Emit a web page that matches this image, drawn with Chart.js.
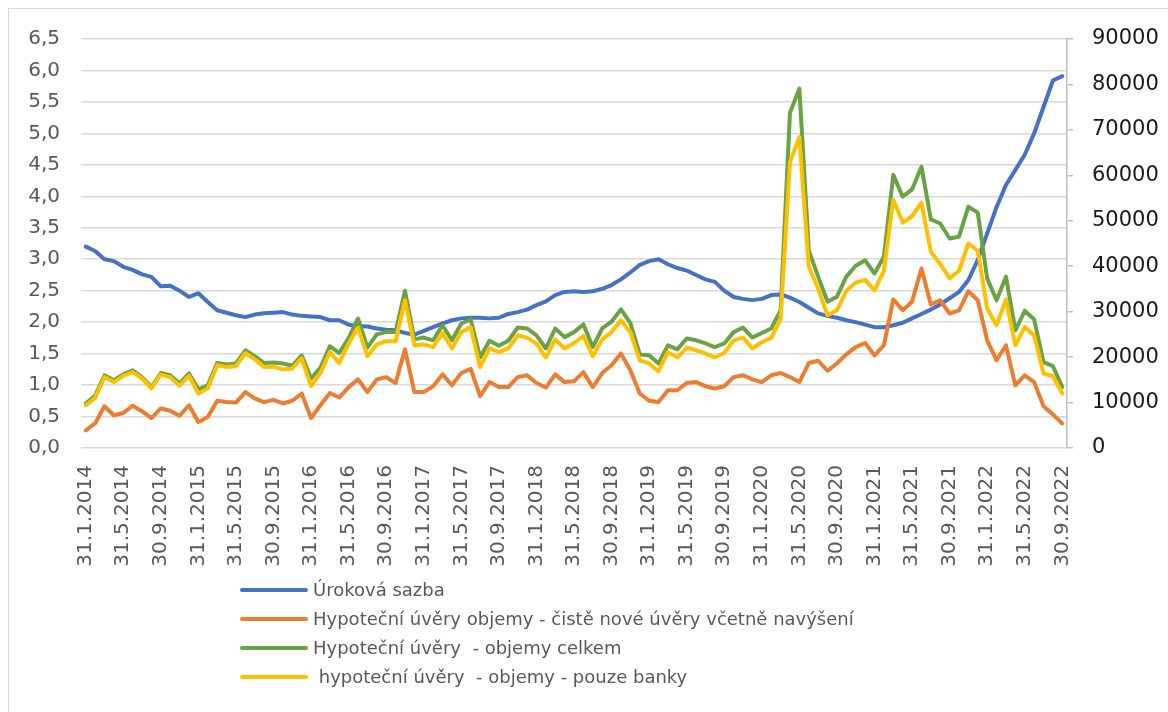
<!DOCTYPE html>
<html>
<head>
<meta charset="utf-8">
<script src="https://cdn.jsdelivr.net/npm/chart.js@4.4.1/dist/chart.umd.min.js"></script>
<style>
    body { margin: 0; background: #fff; }
    #wrap { position: relative; width: 1168px; height: 712px; overflow: hidden; }
    #frame { position: absolute; left: 8px; top: 8px; width: 1200px; height: 800px; border: 1px solid #d9d9d9; }
    #chart { position: absolute; left: 0; top: 0; }
    #legend { position: absolute; left: 240px; top: 575px; font-family: 'DejaVu Sans', sans-serif; font-size: 18px; color: #595959; }
    .row { height: 29px; display: flex; align-items: center; white-space: pre; }
    .swatch { width: 68px; height: 4px; border-radius: 2px; margin-right: 5px; }
</style>
</head>
<body>
<div id="wrap">
    <div id="frame"></div>
    <canvas id="chart" width="1168" height="712"></canvas>
    <div id="legend"></div>
</div>
<script>
// month-end dates, Jan 2014 - Sep 2022
const dates = [
    '31.1.2014', '28.2.2014', '31.3.2014', '30.4.2014', '31.5.2014', '30.6.2014', '31.7.2014', '31.8.2014', '30.9.2014', '31.10.2014', '30.11.2014', '31.12.2014',
    '31.1.2015', '28.2.2015', '31.3.2015', '30.4.2015', '31.5.2015', '30.6.2015', '31.7.2015', '31.8.2015', '30.9.2015', '31.10.2015', '30.11.2015', '31.12.2015',
    '31.1.2016', '29.2.2016', '31.3.2016', '30.4.2016', '31.5.2016', '30.6.2016', '31.7.2016', '31.8.2016', '30.9.2016', '31.10.2016', '30.11.2016', '31.12.2016',
    '31.1.2017', '28.2.2017', '31.3.2017', '30.4.2017', '31.5.2017', '30.6.2017', '31.7.2017', '31.8.2017', '30.9.2017', '31.10.2017', '30.11.2017', '31.12.2017',
    '31.1.2018', '28.2.2018', '31.3.2018', '30.4.2018', '31.5.2018', '30.6.2018', '31.7.2018', '31.8.2018', '30.9.2018', '31.10.2018', '30.11.2018', '31.12.2018',
    '31.1.2019', '28.2.2019', '31.3.2019', '30.4.2019', '31.5.2019', '30.6.2019', '31.7.2019', '31.8.2019', '30.9.2019', '31.10.2019', '30.11.2019', '31.12.2019',
    '31.1.2020', '29.2.2020', '31.3.2020', '30.4.2020', '31.5.2020', '30.6.2020', '31.7.2020', '31.8.2020', '30.9.2020', '31.10.2020', '30.11.2020', '31.12.2020',
    '31.1.2021', '28.2.2021', '31.3.2021', '30.4.2021', '31.5.2021', '30.6.2021', '31.7.2021', '31.8.2021', '30.9.2021', '31.10.2021', '30.11.2021', '31.12.2021',
    '31.1.2022', '28.2.2022', '31.3.2022', '30.4.2022', '31.5.2022', '30.6.2022', '31.7.2022', '31.8.2022', '30.9.2022'
];

// interest rate (%), left axis
const rate = [
    3.20, 3.13, 3.00, 2.97, 2.88, 2.83, 2.76, 2.72, 2.57, 2.58, 2.50, 2.40,
    2.46, 2.32, 2.19, 2.15, 2.11, 2.08, 2.12, 2.14, 2.15, 2.16, 2.12, 2.10,
    2.09, 2.08, 2.03, 2.03, 1.96, 1.94, 1.93, 1.90, 1.88, 1.87, 1.83, 1.80,
    1.86, 1.92, 1.98, 2.03, 2.06, 2.07, 2.07, 2.06, 2.07, 2.13, 2.16, 2.20,
    2.27, 2.33, 2.43, 2.48, 2.49, 2.48, 2.49, 2.53, 2.59, 2.68, 2.79, 2.91,
    2.97, 3.00, 2.92, 2.86, 2.82, 2.75, 2.68, 2.64, 2.50, 2.40, 2.37, 2.35,
    2.37, 2.43, 2.44, 2.39, 2.32, 2.23, 2.14, 2.10, 2.07, 2.03, 2.00, 1.96,
    1.92, 1.92, 1.95, 1.99, 2.06, 2.13, 2.20, 2.28, 2.38, 2.48, 2.67, 2.99,
    3.41, 3.83, 4.18, 4.42, 4.66, 5.00, 5.42, 5.84, 5.91
];

// new loans incl. top-ups, right axis
const newLoans = [
    3900, 5400, 9200, 7200, 7700, 9300, 8100, 6600, 8700, 8200, 7100, 9400,
    5700, 6800, 10400, 10100, 10000, 12300, 10900, 10100, 10600, 9800, 10400, 12000,
    6600, 9400, 12100, 11100, 13400, 15100, 12300, 15100, 15600, 14300, 21700, 12300,
    12300, 13600, 16200, 13800, 16500, 17400, 11400, 14500, 13400, 13400, 15600, 16000,
    14300, 13300, 16200, 14500, 14700, 16700, 13400, 16500, 18200, 20800, 17100, 12000,
    10400, 10100, 12700, 12700, 14300, 14500, 13600, 13100, 13600, 15600, 16000, 15100,
    14500, 16000, 16500, 15600, 14500, 18700, 19200, 17000, 18600, 20600, 22200, 23100,
    20400, 22600, 32700, 30300, 32200, 39500, 31600, 32500, 29600, 30300, 34500, 32500,
    23700, 19300, 22600, 13800, 16000, 14500, 9200, 7400, 5400
];

// total mortgage volumes, right axis
const totalLoans = [
    9800, 11500, 16000, 14900, 16200, 17100, 15600, 13400, 16500, 16000, 14200, 16400,
    12900, 13800, 18700, 18400, 18600, 21500, 20200, 18700, 18800, 18600, 18100, 20400,
    15300, 17700, 22400, 20900, 24200, 28500, 22100, 25000, 25500, 25500, 34600, 23900,
    24300, 23700, 27000, 23700, 27400, 28300, 19900, 23600, 22500, 23600, 26500, 26300,
    24800, 21900, 26300, 24400, 25500, 27200, 22200, 26300, 27800, 30500, 27500, 20600,
    20400, 18600, 22600, 21700, 24100, 23700, 23000, 22200, 23000, 25500, 26500, 24300,
    25300, 26300, 30300, 73800, 79100, 43500, 37700, 32200, 33300, 37700, 40100, 41300,
    38400, 42100, 60100, 55300, 56900, 61900, 50300, 49400, 46100, 46500, 53100, 51800,
    37300, 32500, 37700, 25900, 30200, 28300, 18900, 18000, 13400
];

// bank mortgage volumes only, right axis
const bankLoans = [
    9400, 11000, 15600, 14500, 15900, 16700, 15300, 13100, 16200, 15600, 13700, 15900,
    12000, 13100, 18200, 17800, 18000, 20900, 19500, 17800, 17900, 17300, 17500, 19700,
    13600, 16500, 21100, 18700, 23000, 26500, 20200, 22800, 23500, 23500, 32500, 22600,
    22800, 22200, 25300, 21900, 25500, 26600, 17800, 21900, 21100, 21900, 24800, 24300,
    23000, 19900, 23900, 21900, 23100, 24600, 20200, 23900, 25500, 28100, 25500, 19300,
    18600, 16900, 21100, 19900, 22100, 21500, 20800, 19900, 20900, 23700, 24300, 21900,
    23300, 24200, 28300, 63000, 68400, 39900, 35100, 29200, 30300, 34600, 36400, 37000,
    34700, 39000, 54700, 49600, 51000, 54000, 43200, 40500, 37300, 39000, 45000, 43400,
    30700, 27000, 32700, 22600, 26600, 24800, 16400, 15800, 12000
];

const seriesNames = [
    'Úroková sazba',
    'Hypoteční úvěry objemy - čistě nové úvěry včetně navýšení',
    'Hypoteční úvěry  - objemy celkem',
    ' hypoteční úvěry  - objemy - pouze banky'
];
const seriesColors = ['#4472C4', '#ED7D31', '#6AA343', '#FFC000'];

const tickFont = { family: 'DejaVu Sans', size: 20 };

function lineSet(i, data, axis) {
    return {
        label: seriesNames[i],
        data: data,
        yAxisID: axis,
        borderColor: seriesColors[i],
        backgroundColor: seriesColors[i],
        borderWidth: 4,
        pointRadius: 0,
        tension: 0,
        borderJoinStyle: 'round',
        borderCapStyle: 'round',
        order: 4 - i
    };
}

const chart = new Chart(document.getElementById('chart'), {
    type: 'line',
    data: {
        labels: dates,
        datasets: [
            lineSet(0, rate, 'y'),
            lineSet(1, newLoans, 'y2'),
            lineSet(2, totalLoans, 'y2'),
            lineSet(3, bankLoans, 'y2')
        ]
    },
    options: {
        responsive: false,
        animation: false,
        devicePixelRatio: 1,
        layout: { padding: { top: 39, left: 0, right: 0, bottom: 0 } },
        plugins: {
            legend: { display: false },
            tooltip: { enabled: false }
        },
        scales: {
            x: {
                offset: true,
                grid: { display: false, drawTicks: false },
                border: { display: false },
                ticks: {
                    autoSkip: false,
                    minRotation: 90,
                    maxRotation: 90,
                    padding: 17,
                    color: '#595959',
                    font: tickFont,
                    callback: function (value, index) {
                        return index % 4 === 0 ? this.getLabelForValue(value) : '';
                    }
                },
                afterFit: function (scale) { scale.height = 264; }
            },
            y: {
                position: 'left',
                min: 0,
                max: 6.5,
                grid: { color: '#d9d9d9', lineWidth: 1.5, drawTicks: false },
                border: { display: false },
                ticks: {
                    stepSize: 0.5,
                    padding: 21,
                    color: '#595959',
                    font: tickFont,
                    callback: v => v.toFixed(1).replace('.', ',')
                },
                afterFit: function (scale) { scale.width = 81; }
            },
            y2: {
                position: 'right',
                min: 0,
                max: 90000,
                grid: { drawOnChartArea: false, color: '#bfbfbf', lineWidth: 1.5, tickLength: 6 },
                border: { display: true, color: '#bfbfbf', width: 1.5 },
                ticks: {
                    stepSize: 10000,
                    padding: 19,
                    color: '#1a1a1a',
                    font: { family: 'DejaVu Sans', size: 21 },
                    callback: v => String(v)
                },
                afterFit: function (scale) { scale.width = 101; }
            }
        }
    }
});

// legend stacked under the axis labels
const legend = document.getElementById('legend');
chart.data.datasets.forEach(ds => {
    const row = document.createElement('div');
    row.className = 'row';
    const sw = document.createElement('span');
    sw.className = 'swatch';
    sw.style.background = ds.borderColor;
    const txt = document.createElement('span');
    txt.textContent = ds.label;
    row.appendChild(sw);
    row.appendChild(txt);
    legend.appendChild(row);
});
</script>
</body>
</html>
